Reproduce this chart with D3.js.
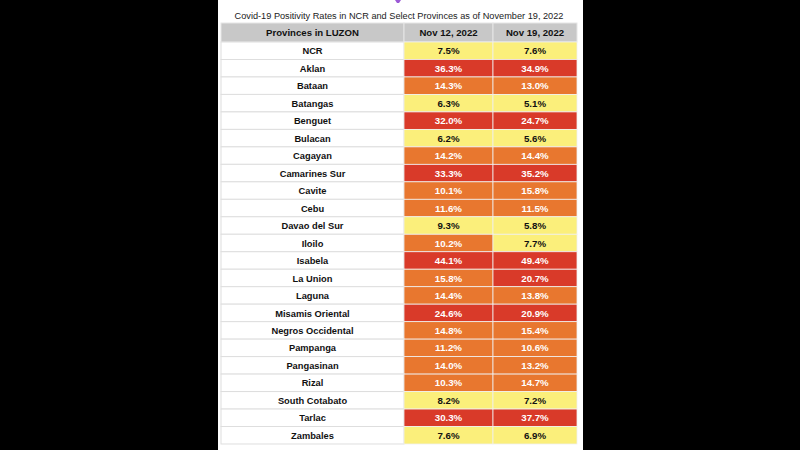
<!DOCTYPE html>
<html>
<head>
<meta charset="utf-8">
<script src="https://cdn.jsdelivr.net/npm/d3@7"></script>
<style>
html,body{margin:0;padding:0;background:#000;}
svg{display:block;}
text{font-family:"Liberation Sans",Arial,Helvetica,sans-serif;}
</style>
</head>
<body>
<svg id="chart" width="800" height="450"></svg>
<script>
const title = "Covid-19 Positivity Rates in NCR and Select Provinces as of November 19, 2022";
const headers = ["Provinces in LUZON", "Nov 12, 2022", "Nov 19, 2022"];
const provinces = ["NCR","Aklan","Bataan","Batangas","Benguet","Bulacan","Cagayan","Camarines Sur","Cavite","Cebu","Davao del Sur","Iloilo","Isabela","La Union","Laguna","Misamis Oriental","Negros Occidental","Pampanga","Pangasinan","Rizal","South Cotabato","Tarlac","Zambales"];
const nov12 = [7.5,36.3,14.3,6.3,32.0,6.2,14.2,33.3,10.1,11.6,9.3,10.2,44.1,15.8,14.4,24.6,14.8,11.2,14.0,10.3,8.2,30.3,7.6];
const nov19 = [7.6,34.9,13.0,5.1,24.7,5.6,14.4,35.2,15.8,11.5,5.8,7.7,49.4,20.7,13.8,20.9,15.4,10.6,13.2,14.7,7.2,37.7,6.9];
const thresholds = [10, 20];

const svg = d3.select("#chart");
// panel
svg.append("rect").attr("x",218).attr("y",0).attr("width",365).attr("height",450).attr("fill","#ffffff");
// cropped purple mark at the top edge
svg.append("path").attr("d","M395,0 L401,0 L399,3 L397,3 Z").attr("fill","#9b59d6");

svg.append("text").attr("x",399).attr("y",19).attr("text-anchor","middle")
  .attr("font-size",9.2).attr("fill","#222").text(title);

const colEdges = [221, 404, 493, 577];
const xCol = d3.scaleOrdinal().domain([0,1,2]).range(colEdges.slice(0,3));
const wCol = i => colEdges[i+1]-colEdges[i];

const y = d3.scaleBand().domain(provinces).range([42, 444]).padding(0);
const color = d3.scaleThreshold().domain(thresholds).range(["#fbef7b","#e8772f","#d93a29"]);
const textColor = d3.scaleThreshold().domain(thresholds).range(["#111","#fff","#fff"]);

// header
const hdr = svg.append("g");
hdr.selectAll("rect").data(headers).join("rect")
  .attr("x",(d,i)=>xCol(i)).attr("y",23).attr("width",(d,i)=>wCol(i)).attr("height",19)
  .attr("fill","#c8c8c8").attr("stroke","#e6e6e6").attr("stroke-width",1);
hdr.selectAll("text").data(headers).join("text")
  .attr("x",(d,i)=>xCol(i)+wCol(i)/2).attr("y",36).attr("text-anchor","middle")
  .attr("font-size",9.6).attr("font-weight","bold").attr("fill","#111").text(d=>d);

const rows = svg.append("g").selectAll("g").data(provinces).join("g")
  .attr("transform",d=>`translate(0,${y(d)})`);
rows.append("rect").attr("x",xCol(0)).attr("width",wCol(0)).attr("height",y.bandwidth())
  .attr("fill","#fff").attr("stroke","#dedede").attr("stroke-width",1);
rows.append("text").attr("x",xCol(0)+wCol(0)/2).attr("y",y.bandwidth()/2+3.6)
  .attr("text-anchor","middle").attr("font-size",9.3).attr("font-weight","bold").attr("fill","#111")
  .text(d=>d);

[nov12, nov19].forEach((vals, k) => {
  const c = k+1;
  rows.append("rect").attr("x",xCol(c)).attr("width",wCol(c)).attr("height",y.bandwidth())
    .attr("fill",(d,i)=>color(vals[i])).attr("stroke","#f0f0f0").attr("stroke-width",0.8);
  rows.append("text").attr("x",xCol(c)+wCol(c)/2).attr("y",y.bandwidth()/2+3.6)
    .attr("text-anchor","middle").attr("font-size",9.7).attr("font-weight","bold")
    .attr("fill",(d,i)=>textColor(vals[i])).text((d,i)=>vals[i].toFixed(1)+"%");
});
</script>
</body>
</html>
